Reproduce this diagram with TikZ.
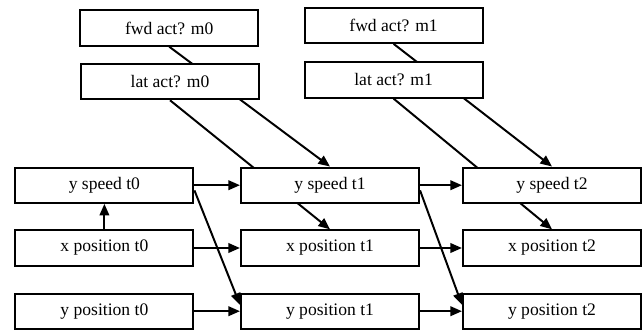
\documentclass[tikz,border=0pt]{standalone}
\usepackage{fontspec}
\setmainfont{Liberation Serif}
\usepackage{tikz}
\usetikzlibrary{arrows.meta, backgrounds}

\begin{document}
\begin{tikzpicture}[
  varbox/.style={draw, line width=1.5pt, fill=white, minimum width=4.45cm, minimum height=0.88cm, inner sep=0pt, font=\fontsize{12.5}{14}\selectfont},
  dep/.style={-{Triangle[length=2.9mm, width=2.4mm]}, line width=1.4pt}
]
  \useasboundingbox (0, 0) rectangle (16.05, 8.25);

  % Actions
  \node[varbox] (fwd0) at (4.23, 7.55) {fwd act? m0};
  \node[varbox] (lat0) at (4.25, 6.21) {lat act? m0};
  \node[varbox] (fwd1) at (9.84, 7.62) {fwd act? m1};
  \node[varbox] (lat1) at (9.84, 6.25) {lat act? m1};

  % Time slice t0
  \node[varbox] (ysp0) at (2.61, 3.62) {y speed t0};
  \node[varbox] (xpos0) at (2.61, 2.05) {x position t0};
  \node[varbox] (ypos0) at (2.61, 0.47) {y position t0};

  % Time slice t1
  \node[varbox] (ysp1) at (8.25, 3.62) {y speed t1};
  \node[varbox] (xpos1) at (8.25, 2.05) {x position t1};
  \node[varbox] (ypos1) at (8.25, 0.47) {y position t1};

  % Time slice t2
  \node[varbox] (ysp2) at (13.8, 3.62) {y speed t2};
  \node[varbox] (xpos2) at (13.8, 2.05) {x position t2};
  \node[varbox] (ypos2) at (13.8, 0.47) {y position t2};

  \begin{pgfonlayer}{background}
    % Action effects
    \draw[dep] (fwd0.south) -- (ysp1.north);
    \draw[dep] (lat0.south) -- (xpos1.north);
    \draw[dep] (fwd1.south) -- (ysp2.north);
    \draw[dep] (lat1.south) -- (xpos2.north);

    % Within t0
    \draw[dep] (xpos0) -- (ysp0);

    % Transitions
    \draw[dep] (ysp0) -- (ysp1);
    \draw[dep] (xpos0) -- (xpos1);
    \draw[dep] (ypos0) -- (ypos1);
    \draw[dep] ([yshift=-0.13cm]ysp0.east) -- ([yshift=0.16cm]ypos1.west);
    \draw[dep] (ysp1) -- (ysp2);
    \draw[dep] (xpos1) -- (xpos2);
    \draw[dep] (ypos1) -- (ypos2);
    \draw[dep] ([yshift=-0.13cm]ysp1.east) -- ([yshift=0.16cm]ypos2.west);
  \end{pgfonlayer}
\end{tikzpicture}
\end{document}
